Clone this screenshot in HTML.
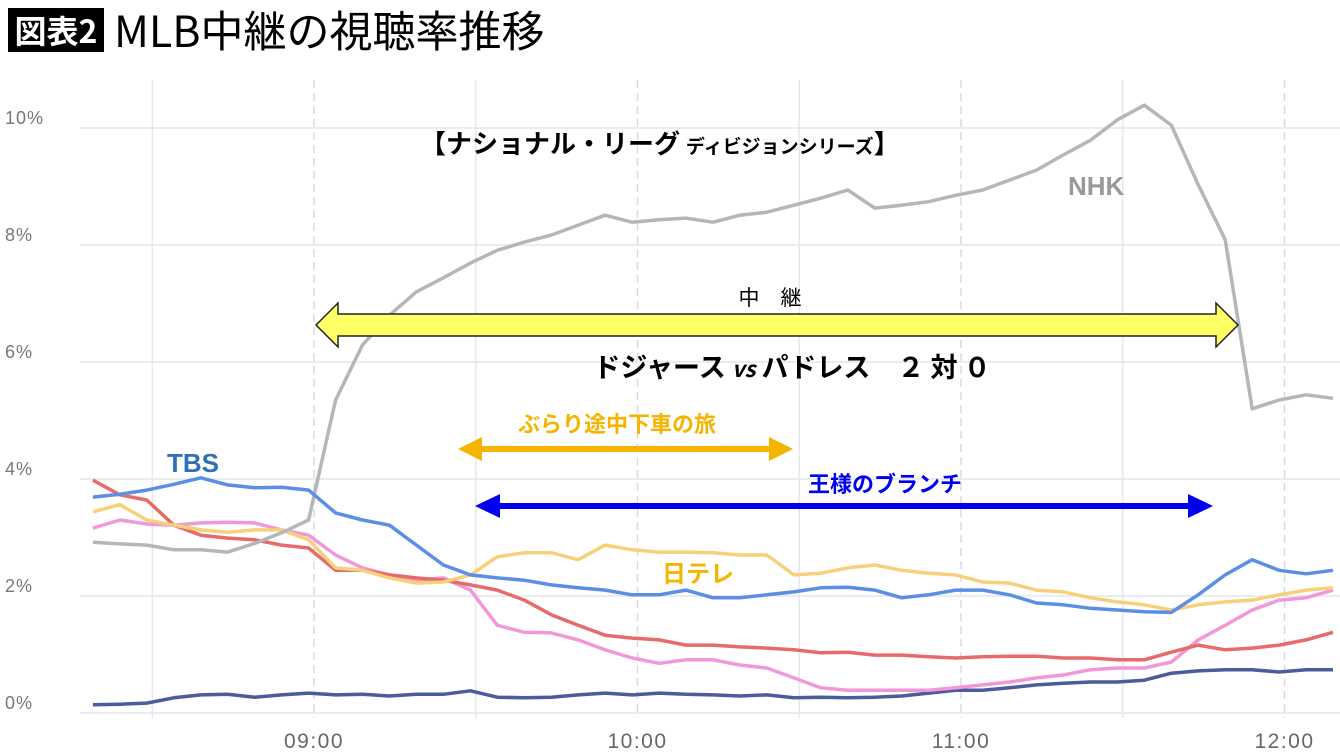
<!DOCTYPE html>
<html><head><meta charset="utf-8"><style>
body{margin:0;width:1340px;height:753px;background:#fff;overflow:hidden;font-family:"Liberation Sans","Noto Sans CJK JP",sans-serif}
svg{position:absolute;left:0;top:0}
</style></head><body>
<svg id="c" width="1340" height="753">
<rect x="8" y="8" width="96" height="44" fill="#000"/>
<text x="56" y="43" text-anchor="middle" font-size="32" font-weight="bold" fill="#fff" font-family="Noto Sans CJK JP, sans-serif">図表2</text>
<text x="114" y="47" font-size="43" fill="#000" font-family="Noto Sans CJK JP, sans-serif">MLB中継の視聴率推移</text>
<g id="grid"></g><g id="lines"></g>
<g>
<text x="420" y="153" font-size="26" font-weight="bold" fill="#000" font-family="Noto Sans CJK JP, sans-serif">【ナショナル・リーグ <tspan font-size="19">ディビジョンシリーズ</tspan>】</text>
<text x="1068" y="195" font-size="26" font-weight="bold" fill="#999">NHK</text>
<text x="770" y="305" text-anchor="middle" font-size="21" fill="#000" font-family="Noto Sans CJK JP, sans-serif">中　継</text>
<polygon points="316,325 338,303 338,314 1216,314 1216,303 1238,325 1216,347 1216,336 338,336 338,347" fill="#ffff66" stroke="#222" stroke-width="1.5"/>
<text x="792" y="377" text-anchor="middle" font-size="27" font-weight="bold" fill="#000" font-family="Noto Sans CJK JP, sans-serif">ドジャース <tspan font-style="italic" font-size="22">vs</tspan> パドレス　２ 対 ０</text>
<text x="617" y="432" text-anchor="middle" font-size="22" font-weight="bold" fill="#f5b400" font-family="Noto Sans CJK JP, sans-serif">ぶらり途中下車の旅</text>
<polygon points="458,449 482,437 482,446 769,446 769,437 793,449 769,461 769,452 482,452 482,461" fill="#f5b400"/>
<text x="885" y="492" text-anchor="middle" font-size="22" font-weight="bold" fill="#0000ee" font-family="Noto Sans CJK JP, sans-serif">王様のブランチ</text>
<polygon points="475,506 500,494 500,503 1188,503 1188,494 1213,506 1188,518 1188,509 500,509 500,518" fill="#0000ee"/>
<text x="662" y="582" font-size="24" font-weight="bold" fill="#f5b400" font-family="Noto Sans CJK JP, sans-serif">日テレ</text>
<text x="167" y="472" font-size="26" font-weight="bold" fill="#2f6fb5">TBS</text>
</g>
</svg>
<script>
const times=[19,24,29,34,39,44,49,54,59,64,69,74,79,84,89,94,99,104,109,114,119,124,129,134,139,144,149,154,159,164,169,174,179,184,189,194,199,204,209,214,219,224,229,234,239,244,249];
const yTicks=[0,2,4,6,8,10];
const xTickMinutes=[60,120,180,240];
const xTickLabels=["09:00","10:00","11:00","12:00"];
const nhk=[2.92,2.89,2.87,2.79,2.79,2.75,2.9,3.08,3.3,5.35,6.29,6.8,7.2,7.44,7.69,7.91,8.05,8.17,8.34,8.51,8.39,8.43,8.46,8.39,8.51,8.56,8.68,8.8,8.94,8.63,8.68,8.74,8.85,8.94,9.11,9.28,9.54,9.79,10.14,10.39,10.05,9.03,8.09,5.2,5.35,5.44,5.38];
const tbs=[3.69,3.74,3.81,3.91,4.02,3.9,3.85,3.86,3.81,3.42,3.3,3.21,2.87,2.53,2.36,2.31,2.27,2.19,2.14,2.1,2.02,2.02,2.1,1.97,1.97,2.02,2.07,2.14,2.15,2.1,1.97,2.02,2.1,2.1,2.02,1.88,1.85,1.79,1.76,1.73,1.72,2.02,2.36,2.62,2.44,2.38,2.44];
const ntv=[3.44,3.56,3.3,3.21,3.13,3.09,3.13,3.13,2.96,2.48,2.44,2.31,2.22,2.24,2.36,2.67,2.74,2.74,2.62,2.87,2.79,2.75,2.75,2.74,2.7,2.7,2.36,2.39,2.48,2.53,2.44,2.39,2.36,2.24,2.22,2.1,2.07,1.97,1.9,1.85,1.76,1.85,1.9,1.93,2.02,2.1,2.14];
const red=[3.98,3.73,3.64,3.21,3.04,2.99,2.96,2.87,2.82,2.44,2.44,2.36,2.31,2.27,2.19,2.1,1.93,1.68,1.5,1.33,1.28,1.25,1.16,1.16,1.13,1.11,1.08,1.03,1.04,0.99,0.99,0.96,0.94,0.96,0.97,0.97,0.94,0.94,0.91,0.91,1.04,1.16,1.08,1.11,1.16,1.25,1.38];
const pink=[3.16,3.3,3.23,3.21,3.25,3.26,3.25,3.13,3.04,2.7,2.48,2.36,2.27,2.31,2.1,1.5,1.38,1.37,1.25,1.08,0.94,0.85,0.91,0.91,0.82,0.77,0.6,0.43,0.39,0.39,0.39,0.39,0.43,0.48,0.53,0.6,0.65,0.74,0.77,0.77,0.87,1.25,1.5,1.76,1.93,1.97,2.1];
const navy=[0.14,0.15,0.17,0.26,0.31,0.32,0.27,0.31,0.34,0.31,0.32,0.29,0.32,0.32,0.38,0.27,0.26,0.27,0.31,0.34,0.31,0.34,0.32,0.31,0.29,0.31,0.26,0.27,0.26,0.27,0.29,0.34,0.39,0.39,0.43,0.48,0.51,0.53,0.53,0.56,0.68,0.72,0.74,0.74,0.7,0.74,0.74];
const NS="http://www.w3.org/2000/svg";
const X=m=>314+(m-60)*323.5/60;
const Y=v=>713-v*58.5;
const grid=document.getElementById('grid');
function mk(tag,attrs,parent){const e=document.createElementNS(NS,tag);for(const k in attrs)e.setAttribute(k,attrs[k]);parent.appendChild(e);return e;}
for(let m=30;m<=240;m+=60){const l=mk('line',{x1:X(m),x2:X(m),y1:80,y2:718,stroke:'#e6e8ee','stroke-width':1.5},grid);

}
xTickMinutes.forEach((m,i)=>{const l=mk('line',{x1:X(m),x2:X(m),y1:80,y2:718,stroke:'#d8dbe2','stroke-width':1.5,'stroke-dasharray':'8,5'},grid);


const t=mk('text',{x:X(m),y:748,'text-anchor':'middle','font-size':21,'letter-spacing':1.5,fill:'#666','font-family':'Liberation Sans, sans-serif'},grid);t.textContent=xTickLabels[i];

});
yTicks.forEach(v=>{const l=mk('line',{x1:80,x2:1340,y1:Y(v),y2:Y(v),stroke:'#e3e5ea','stroke-width':1.5},grid);


const t=mk('text',{x:5,y:Y(v)-4,'font-size':18,'letter-spacing':1,fill:'#777','font-family':'Liberation Sans, sans-serif'},grid);t.textContent=v+'%';

});
const lines=document.getElementById('lines');
function draw(vals,color,name){const d=vals.map((v,i)=>(i?'L':'M')+X(times[i]).toFixed(1)+','+Y(v).toFixed(1)).join('');
const p=mk('path',{d:d,fill:'none',stroke:color,'stroke-width':3.5,'stroke-linejoin':'round'},lines);

}
draw(navy,'#4a5c9e','line-tv-tokyo');
draw(pink,'#f298d8','line-tv-asahi');
draw(red,'#e86a6a','line-fuji');
draw(ntv,'#f7d07a','line-ntv');
draw(nhk,'#b3b6bb','line-nhk');
draw(tbs,'#5b8ee6','line-tbs');
</script>
</body></html>
